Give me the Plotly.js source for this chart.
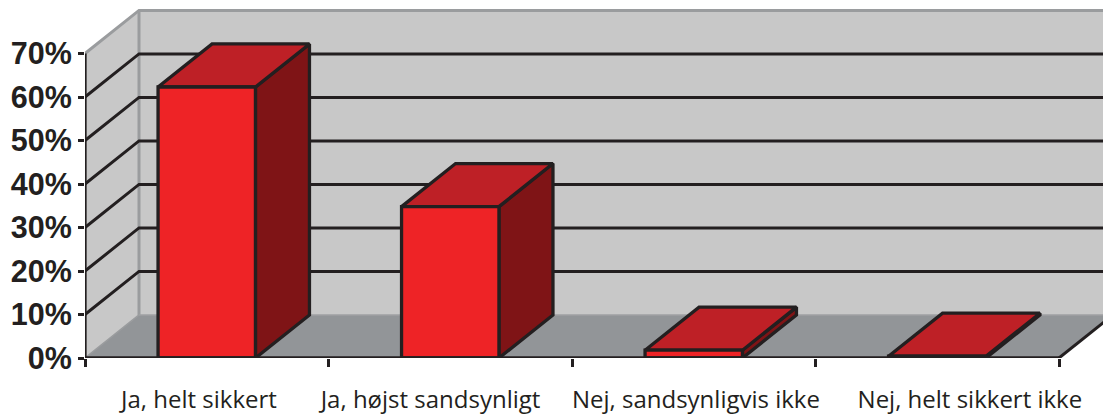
<!DOCTYPE html>
<html>
<head>
<meta charset="utf-8">
<script src="https://cdn.plot.ly/plotly-3.0.1.min.js"></script>
<style>html,body{margin:0;padding:0;background:#fff}</style>
</head>
<body>
<div id="chart" style="width:1103px;height:415px"></div>
<script>
const categories = ["Ja, helt sikkert", "Ja, højst sandsynligt", "Nej, sandsynligvis ikke", "Nej, helt sikkert ikke"];
const labelCentres = [0.468, 1.419, 2.509, 3.634];
const values = [62.3, 34.8, 1.8, 0.4];
const yTicks = [0, 10, 20, 30, 40, 50, 60, 70];
const yTickLabels = ["0%", "10%", "20%", "30%", "40%", "50%", "60%", "70%"];
const gridLevels = [10, 20, 30, 40, 50, 60];

const ink = "#231f20", wallEdge = "#9a9c9e";
const depthX = 0.2218, depthY = 9.9, barFrac = 0.4, n = categories.length, yMax = 70;
const traces = [];
function poly(xs, ys, fill, color, width) {
  traces.push({x: xs.concat(xs[0]), y: ys.concat(ys[0]), mode: "lines", fill: "toself", fillcolor: fill, cliponaxis: false,
    line: {color: color, width: width, simplify: false}, hoverinfo: "skip", showlegend: false});
}
function line(xs, ys, color, width) {
  traces.push({x: xs, y: ys, mode: "lines", cliponaxis: false, line: {color: color, width: width, simplify: false}, hoverinfo: "skip", showlegend: false});
}
// walls and floor
poly([depthX, n + depthX, n + depthX, depthX], [depthY, depthY, yMax + depthY, yMax + depthY], "#c8c8c8", "rgba(0,0,0,0)", 0);
poly([0, depthX, depthX, 0], [0, depthY, yMax + depthY, yMax], "#c8c8c8", "rgba(0,0,0,0)", 0);
poly([0, depthX, n + depthX, n], [0, depthY, depthY, 0], "#929598", "rgba(0,0,0,0)", 0);
// wall edges
line([0, depthX, n + depthX], [yMax, yMax + depthY, yMax + depthY], wallEdge, 3);
line([depthX, depthX], [depthY, yMax + depthY], wallEdge, 3);
line([0, depthX], [0, depthY], wallEdge, 1.5);
line([depthX, n + depthX], [depthY, depthY], "#9fa1a3", 1.5);
// gridlines
gridLevels.forEach(v => line([0, depthX, n + depthX], [v, v + depthY, v + depthY], ink, 3));
line([n, n + depthX], [0, depthY], ink, 3);
// bars
values.forEach((v, i) => {
  const a = i + 0.5 - barFrac / 2, b = i + 0.5 + barFrac / 2;
  poly([b, b + depthX, b + depthX, b], [0, depthY, v + depthY, v], "#7f1416", ink, 3.3);
  poly([a, b, b + depthX, a + depthX], [v, v, v + depthY, v + depthY], "#be2026", ink, 3.3);
  poly([a, b, b, a], [0, 0, v, v], "#ee2326", ink, 3.3);
});
// axis lines
traces.push({x: [0, n], y: [0, 0], xaxis: "x2", mode: "lines", cliponaxis: false, line: {color: ink, width: 3.3}, hoverinfo: "skip", showlegend: false});
line([0, 0], [0, yMax], ink, 3.3);

const xRange = [0, 4.1807], yRange = [0, 80.46];
Plotly.newPlot("chart", traces, {
  width: 1103, height: 415,
  margin: {l: 85, r: 0, t: 8, b: 57, pad: 0},
  paper_bgcolor: "#fff", plot_bgcolor: "#fff", showlegend: false,
  xaxis: {range: xRange, tickmode: "array", tickvals: labelCentres, ticktext: categories,
    ticks: "", showgrid: false, zeroline: false, showline: false, ticklabelstandoff: 25,
    tickfont: {family: "Open Sans", size: 24, color: ink}},
  xaxis2: {range: xRange, overlaying: "x", side: "bottom", anchor: "y", tickmode: "array",
    tickvals: categories.map((c, i) => i).concat(n), ticktext: ["", "", "", "", ""],
    ticks: "outside", ticklen: 8, tickwidth: 3, tickcolor: ink, showgrid: false, zeroline: false, showline: false},
  yaxis: {range: yRange, tickmode: "array", tickvals: yTicks, ticktext: yTickLabels, ticks: "outside", ticklen: 6, tickwidth: 3,
    tickcolor: ink, showgrid: false, zeroline: false, showline: false,
    tickfont: {family: "Liberation Sans", size: 30.5, color: ink, weight: 700}}
}, {displayModeBar: false, staticPlot: true});
</script>
</body>
</html>
